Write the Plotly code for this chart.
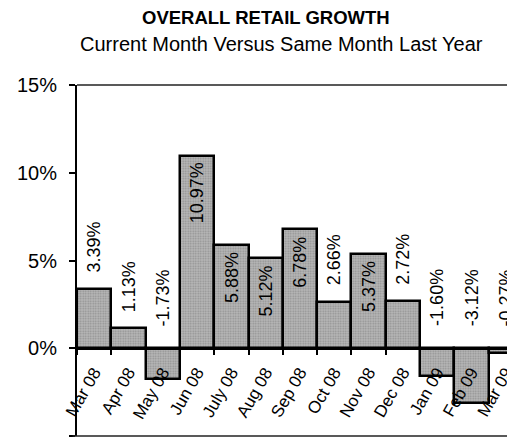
import plotly.graph_objects as go

# ---- data ----
months = ["Mar 08", "Apr 08", "May 08", "Jun 08", "July 08", "Aug 08", "Sep 08",
          "Oct 08", "Nov 08", "Dec 08", "Jan 09", "Feb 09", "Mar 09"]
growth = [3.39, 1.13, -1.73, 10.97, 5.88, 5.12, 6.78, 2.66, 5.37, 2.72, -1.60, -3.12, -0.27]
y_ticks = [-5, 0, 5, 10, 15]
y_tick_labels = [f"{t}%" for t in y_ticks]
title_text = "OVERALL RETAIL GROWTH"
subtitle_text = "Current Month Versus Same Month Last Year"

FONT = "Liberation Sans, Arial, sans-serif"

fig = go.Figure()
fig.add_trace(go.Bar(
    x=months, y=growth,
    marker=dict(
        color="#a8a8a8",
        line=dict(color="black", width=2.5),
        pattern=dict(shape=".", fgcolor="#666666", bgcolor="#b8b8b8", size=2.5, solidity=0.4),
    ),
    hoverinfo="skip",
))

annotations = []
for m, v in zip(months, growth):
    label = f"{v:.2f}%"
    if v > 5:
        annotations.append(dict(x=m, y=v, xref="x", yref="y", text=label, textangle=-90,
                                showarrow=False, yanchor="top", xanchor="center", yshift=-5,
                                font=dict(family=FONT, size=18, color="black")))
    else:
        annotations.append(dict(x=m, y=max(v, 0), xref="x", yref="y", text=label, textangle=-90,
                                showarrow=False, yanchor="bottom", xanchor="center",
                                yshift=14 if v >= 0 else 20,
                                font=dict(family=FONT, size=18, color="black")))

annotations.append(dict(x=0.4315, y=1.192, xref="paper", yref="paper", text=f"<b>{title_text}</b>",
                        showarrow=False, xanchor="center", yanchor="middle",
                        font=dict(family=FONT, size=18.5, color="black")))
annotations.append(dict(x=0.468, y=1.118, xref="paper", yref="paper", text=subtitle_text,
                        showarrow=False, xanchor="center", yanchor="middle",
                        font=dict(family=FONT, size=20, color="black")))

fig.update_layout(
    width=507, height=434, autosize=False,
    margin=dict(l=69, r=0, t=77, b=6, pad=0),
    paper_bgcolor="white", plot_bgcolor="white",
    showlegend=False, bargap=0,
    font=dict(family=FONT, color="black"),
    annotations=annotations,
    shapes=[
        dict(type="line", xref="paper", yref="paper", x0=0, x1=1, y0=1, y1=1,
             line=dict(color="#222", width=1.5)),
        dict(type="line", xref="paper", yref="paper", x0=-0.01, x1=1, y0=0, y1=0,
             line=dict(color="#222", width=1.5)),
    ],
    xaxis=dict(
        type="category", range=[-0.5, 12.27],
        anchor="free", position=0.25, automargin=False,
        showline=True, linecolor="black", linewidth=2.5,
        ticks="outside", tickson="boundaries", ticklen=5, tickwidth=1.5, tickcolor="black",
        tickangle=-60, tickfont=dict(family=FONT, size=17, color="black"),
        ticklabelstandoff=6,
        showgrid=False, zeroline=False,
    ),
    yaxis=dict(
        range=[-5, 15], tickvals=y_ticks, ticktext=y_tick_labels, automargin=False,
        showline=True, linecolor="black", linewidth=2,
        ticks="outside", ticklen=6, tickwidth=1.5, tickcolor="black",
        tickfont=dict(family=FONT, size=20, color="black"),
        ticklabelstandoff=8,
        showgrid=False, zeroline=False,
    ),
)

fig.write_html("out.html")
